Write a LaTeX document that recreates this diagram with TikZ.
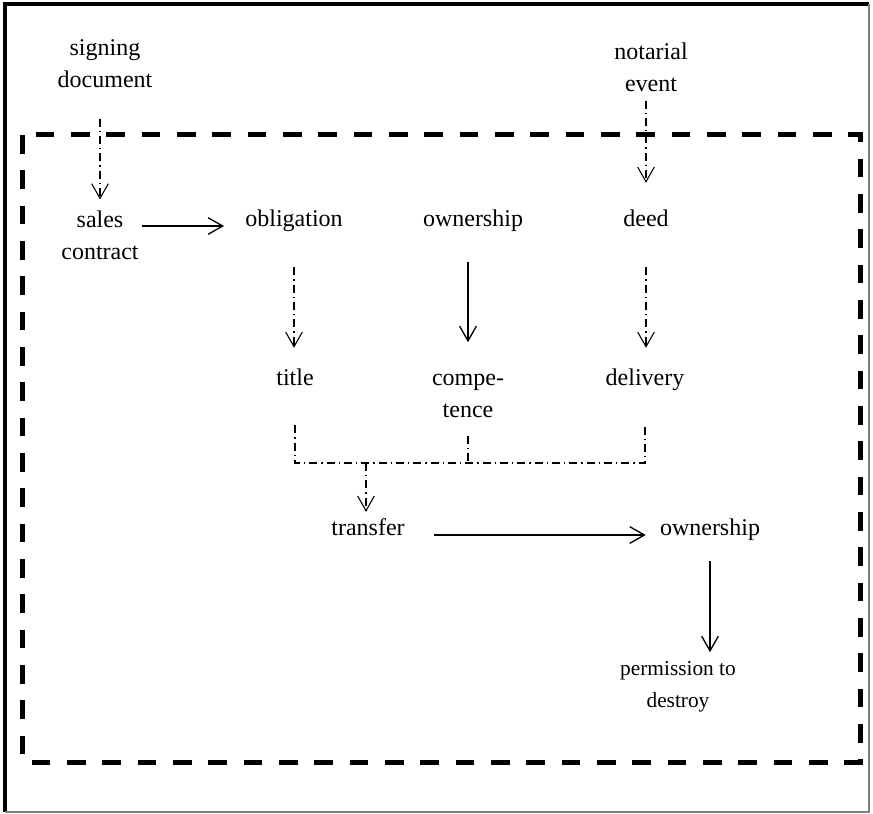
\documentclass[tikz,border=0pt]{standalone}
\usepackage{fontspec}
\setmainfont{Liberation Serif}
\usetikzlibrary{arrows.meta}

\tikzset{
  rotulo/.style={font=\fontsize{18}{24}\selectfont, inner sep=0pt, align=center, anchor=base},
  linha/.style={rotulo, text height=12.5pt, text depth=4pt},
  seta/.style={-{Straight Barb[length=11pt,width=12.5pt]}},
  solida/.style={seta, line width=1pt},
  tracoponto/.style={line width=0.8pt, dash pattern=on 6pt off 3pt on 1pt off 3pt},
}

\begin{document}
\begin{tikzpicture}[x=0.75pt, y=-0.75pt]
        \useasboundingbox (0,0) rectangle (873,813);

        % Moldura
        \draw[line width=3pt] (5,812) -- (5,4) -- (869,4);
        \draw[gray, line width=1.2pt] (869,4) -- (869,812) -- (5,812);
        \draw[line width=3.75pt, dash pattern=on 14pt off 12.5pt] (22.5,135) rectangle (860,762);

        % Eventos de fora (base = ultima linha)
        \node[rotulo] (assinatura) at (105,88) {signing\\document};
        \node[rotulo] (notarial) at (651,92) {notarial\\event};

        % Primeira linha
        \node[rotulo] (venda) at (100,259) {sales\\contract};
        \node[linha] (obrigacao) at (294,226) {obligation};
        \node[linha] (propriedade) at (473,226) {ownership};
        \node[linha] (escritura) at (646,226) {deed};

        % Segunda linha
        \node[linha] (titulo) at (295,385) {title};
        \node[rotulo] (competencia) at (468,417) {compe-\\tence};
        \node[linha] (entrega) at (645,385) {delivery};

        % Resultado
        \node[linha] (transferencia) at (368,535) {transfer};
        \node[linha] (propriedade2) at (710,535) {ownership};
        \node[rotulo, font=\fontsize{16}{24}\selectfont] (permissao) at (678,707) {permission to\\destroy};

        % Setas
        \draw[tracoponto, seta, shorten <=22.5pt, shorten >=8pt] (assinatura.south -| venda.north) -- (venda.north);
        \draw[tracoponto, seta, shorten <=6pt, shorten >=19.7pt] (notarial.south -| escritura.north) -- (escritura.north);
        \draw[solida, shorten <=2.25pt, shorten >=15.75pt] (venda.east |- obrigacao.base) -- (obrigacao.base west);
        \draw[tracoponto, seta, shorten <=26.8pt, shorten >=15.2pt] (obrigacao.south) -- (obrigacao.south |- titulo.north);
        \draw[solida, shorten <=23pt, shorten >=23.4pt] (propriedade.south -| competencia.north) -- (competencia.north);
        \draw[tracoponto, seta, shorten <=26.8pt, shorten >=15.2pt] (escritura.south) -- (escritura.south |- entrega.north);

        % Juncao dos tres requisitos
        \coordinate (juncao) at (366,463);
        \draw[tracoponto, shorten <=26pt, shorten >=26pt] (titulo.south) |- (juncao) -| (entrega.south);
        \draw[tracoponto, shorten <=13.5pt] (competencia.south) -- (competencia.south |- juncao);
        \draw[tracoponto, seta, shorten >=4.7pt] (juncao) -- (juncao |- transferencia.north);

        \draw[solida, shorten <=21.75pt, shorten >=10.5pt] (transferencia.base east) -- (propriedade2.base west);
        \draw[solida, shorten <=15.5pt, shorten >=6.3pt] (propriedade2.south) -- (propriedade2.south |- permissao.north);
\end{tikzpicture}
\end{document}
